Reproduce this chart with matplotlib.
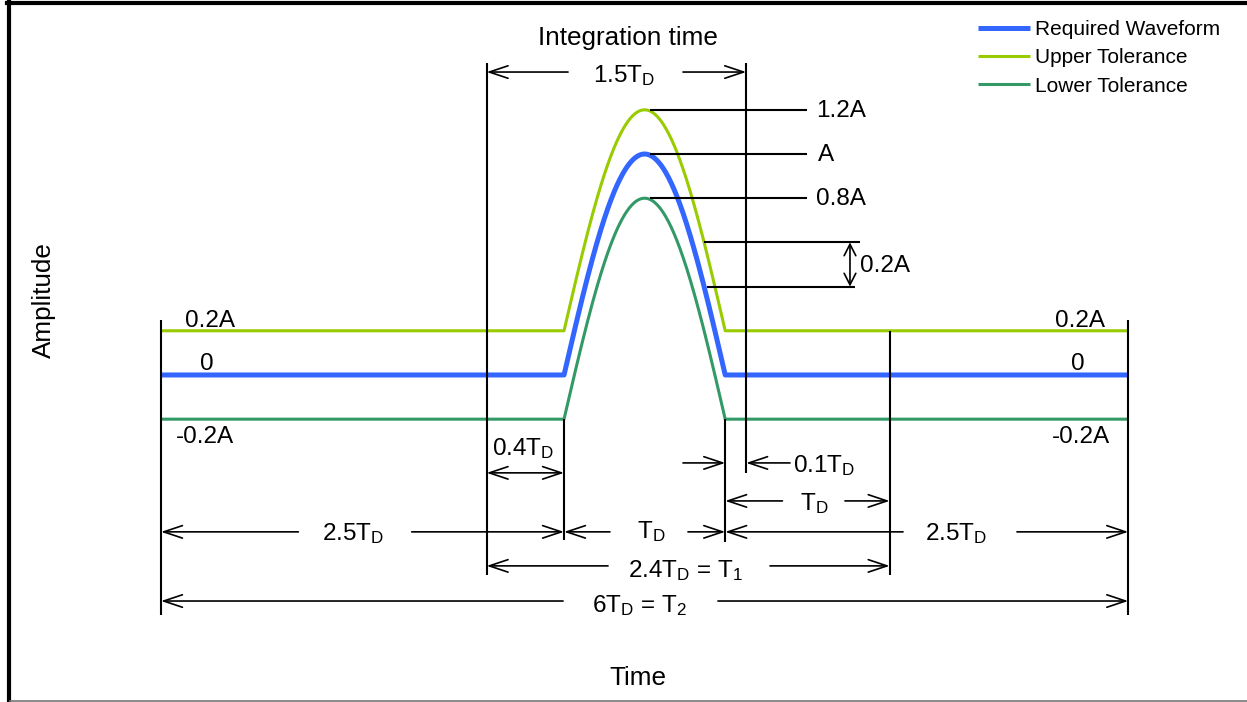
import numpy as np
import matplotlib.pyplot as plt
from matplotlib.lines import Line2D

plt.rcParams['font.family'] = ['Liberation Sans', 'DejaVu Sans']
plt.rcParams['mathtext.fontset'] = 'custom'
plt.rcParams['mathtext.rm'] = 'Liberation Sans'
plt.rcParams['mathtext.it'] = 'Liberation Sans:italic'
plt.rcParams['mathtext.bf'] = 'Liberation Sans:bold'

# time marks, in units of T_D (as drawn in the figure)
t_start, t_on, t_off, t_end = 0.0, 2.5, 3.5, 6.0
t_int_start, t_int_end = 2.02, 3.63     # integration window
t_t1_end = 4.52                         # end of T1

# waveform: half-sine pulse of amplitude A, tolerance band +/-0.2A
peak = 1.0
series_names = ['Required Waveform', 'Upper Tolerance', 'Lower Tolerance']
series_offsets = [0.0, 0.2, -0.2]
series_colors = ['#3366ff', '#99cc00', '#339966']
series_widths = [3.6, 2.2, 2.2]

peak_labels = ['1.2A', 'A', '0.8A']
left_labels = ['0.2A', '0', '-0.2A']

fs = 17.5
fs_big = 18.8
K = dict(color='k')

fig = plt.figure(figsize=(12.47, 7.02), dpi=100)
ax = fig.add_axes([0, 0, 1, 1])
ax.set_xlim(-0.999, 6.737)
ax.set_ylim(-1.480, 1.697)
ax.axis('off')

# frame
fig.add_artist(Line2D([7 / 1247, 1], [1 - 3 / 702] * 2, transform=fig.transFigure, color='k', lw=3))
fig.add_artist(Line2D([8.5 / 1247] * 2, [0, 1 - 1 / 702], transform=fig.transFigure, color='k', lw=3))
fig.add_artist(Line2D([10 / 1247, 1], [1.2 / 702] * 2, transform=fig.transFigure, color='#777777', lw=1.2))


def wave(t, off):
    inside = (t >= t_on) & (t <= t_off)
    return off + np.where(inside, peak * np.sin(np.pi * (t - t_on) / (t_off - t_on)), 0.0)


t = np.concatenate([[t_start], np.linspace(t_on, t_off, 300), [t_end]])
for name, off, c, w in list(zip(series_names, series_offsets, series_colors, series_widths))[::-1]:
    ax.plot(t, wave(t, off), color=c, lw=w, label=name, solid_capstyle='butt')

h, l = ax.get_legend_handles_labels()
leg = ax.legend(h[::-1], l[::-1], loc='upper left', bbox_to_anchor=(978 / 1247, 1 - 20 / 702),
                frameon=False, fontsize=15, borderpad=0, borderaxespad=0,
                handlelength=2.5, handletextpad=0.25, labelspacing=0.45)


def arrow(x_from, x_to, y, style='->'):
    ax.annotate('', xy=(x_to, y), xytext=(x_from, y),
                arrowprops=dict(arrowstyle=style + ',head_length=0.9,head_width=0.3',
                                lw=1.2, color='k', shrinkA=0, shrinkB=0, mutation_scale=15))


def dim(x0, x1, y, g0, g1):
    arrow(g0, x0, y)
    arrow(g1, x1, y)


def txt(x, y, s, ha='left', size=fs, **kw):
    ax.text(x, y, s, ha=ha, va='baseline', fontsize=size, **kw)


# extension lines
ax.vlines([t_start, t_end], 0.25, -1.086, lw=1.5, **K)
ax.vlines(t_int_start, -0.905, 1.41, lw=1.5, **K)
ax.vlines(t_int_end, -0.443, 1.41, lw=1.5, **K)
ax.vlines(t_on, -0.747, -0.2, lw=1.5, **K)
ax.vlines(t_off, -0.757, -0.2, lw=1.5, **K)
ax.vlines(t_t1_end, -0.905, 0.2, lw=1.5, **K)

# peak leaders
for off, s in zip([0.2, 0.0, -0.2], peak_labels):
    ax.hlines(peak + off, 3.035, 4.007, lw=1.5, **K)
    txt(4.063 if s != 'A' else 4.076, peak + off - 0.033, s)

# 0.2A tolerance marker on the falling edge
u = 1 - np.arcsin(0.4 / peak) / np.pi
x_fall = t_on + u * (t_off - t_on)
ax.hlines(0.6, x_fall, 4.336, lw=1.5, **K)
ax.hlines(0.4, x_fall + 0.02, 4.305, lw=1.5, **K)
ax.annotate('', xy=(4.274, 0.6), xytext=(4.274, 0.4),
            arrowprops=dict(arrowstyle='<->,head_length=0.55,head_width=0.28', lw=1.2, color='k',
                            shrinkA=0, shrinkB=0, mutation_scale=15))
txt(4.336, 0.466, '0.2A')

# level labels
for y, s, xl, xr in zip([0.217, 0.023, -0.308], left_labels, [0.149, 0.242, 0.093], [5.856, 5.732, 5.887]):
    txt(xl, y, s)
    txt(xr, y, s, ha='right')

# dimensions
txt(2.897, 1.493, 'Integration time', ha='center', size=fs_big)
dim(t_int_start, t_int_end, 1.371, 2.525, 3.238)
txt(2.68, 1.326, r'1.5T$_\mathrm{D}$')

arrow(t_int_start, t_on, -0.443, '<->')
txt(2.053, -0.362, r'0.4T$_\mathrm{D}$')

arrow(3.238, t_off, -0.398)
arrow(3.902, t_int_end, -0.398)
txt(3.92, -0.439, r'0.1T$_\mathrm{D}$')

dim(t_off, t_t1_end, -0.570, 3.855, 4.243)
txt(3.964, -0.611, r'T$_\mathrm{D}$')

dim(t_start, t_on, -0.710, 0.852, 1.555)
txt(0.999, -0.747, r'2.5T$_\mathrm{D}$')
dim(t_on, t_off, -0.710, 2.785, 3.269)
txt(2.953, -0.738, r'T$_\mathrm{D}$')
dim(t_off, t_end, -0.710, 4.603, 5.31)
txt(4.74, -0.747, r'2.5T$_\mathrm{D}$')

dim(t_int_start, t_t1_end, -0.864, 2.773, 3.778)
txt(2.897, -0.914, r'2.4T$_\mathrm{D}$ = T$_\mathrm{1}$')

dim(t_start, t_end, -1.023, 2.494, 3.455)
txt(2.674, -1.072, r'6T$_\mathrm{D}$ = T$_\mathrm{2}$')

txt(2.959, -1.403, 'Time', ha='center', size=fs_big)
ax.text(-0.726, 0.339, 'Amplitude', rotation=90, ha='center', va='center', fontsize=fs_big)

fig.savefig('out.png', dpi=100)
